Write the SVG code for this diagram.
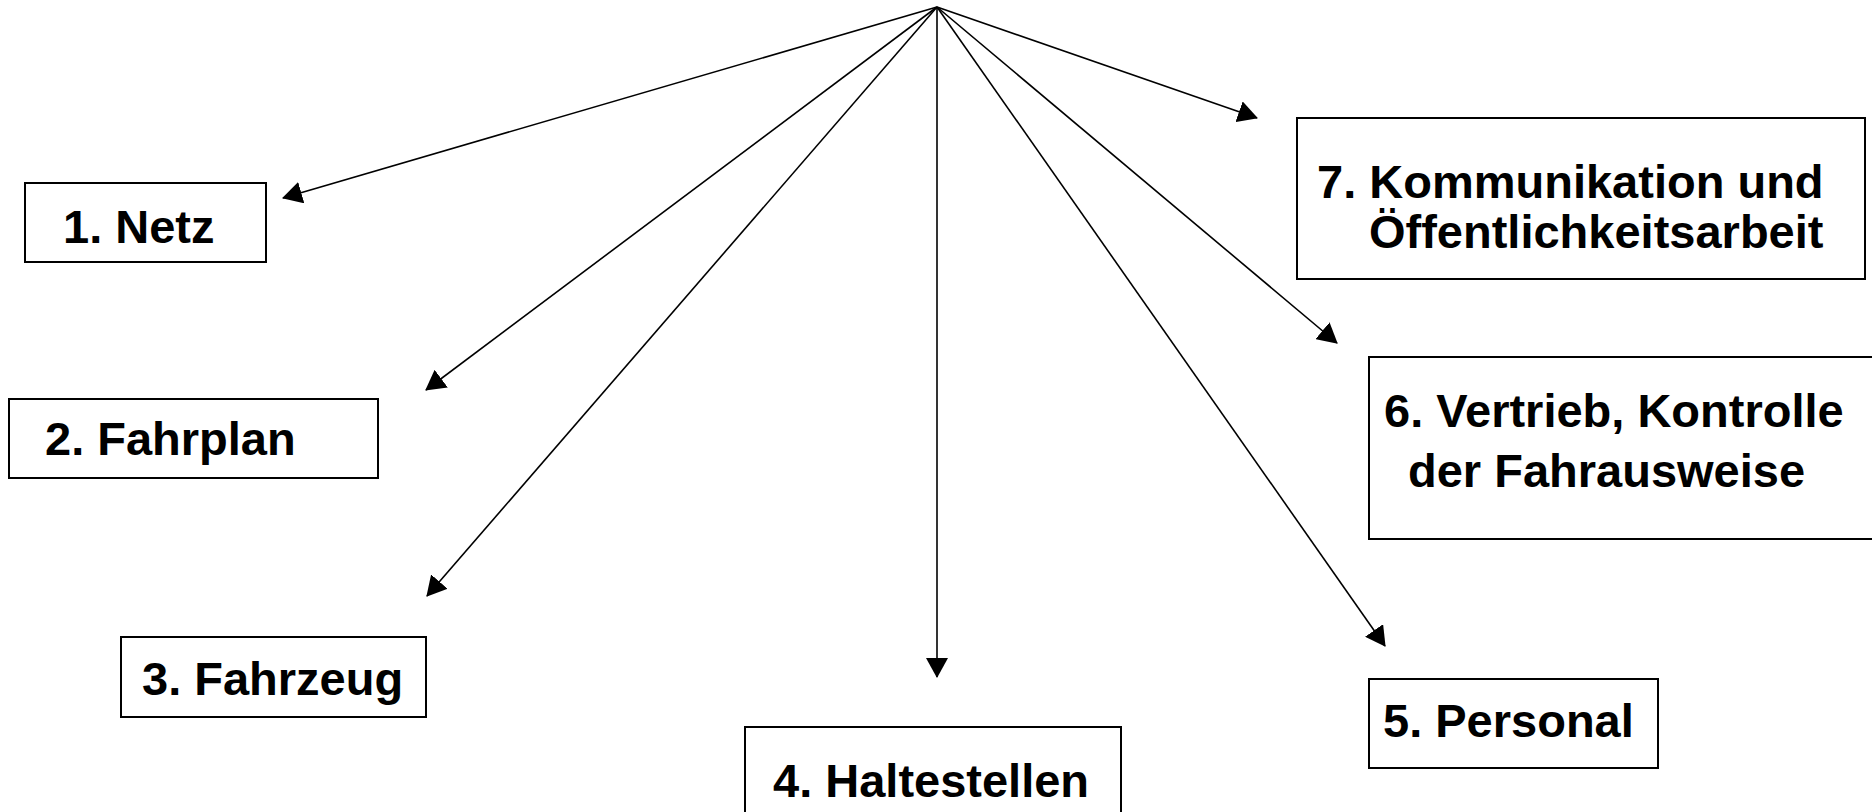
<svg xmlns="http://www.w3.org/2000/svg" width="1872" height="812" viewBox="0 0 1872 812">
<defs>
<marker id="ah" markerUnits="userSpaceOnUse" markerWidth="20" markerHeight="22" viewBox="0 0 20 22" refX="19" refY="11" orient="auto">
<path d="M0,0 L20,11 L0,22 z" fill="#000"/>
</marker>
<style>
.box{fill:#fff;stroke:#000;stroke-width:2}
.t{font-family:"Liberation Sans",Arial,sans-serif;font-weight:bold;font-size:47px;fill:#000}
.c{stroke:#000;stroke-width:1.6;fill:none;marker-end:url(#ah)}
</style>
</defs>
<rect width="1872" height="812" fill="#fff"/>
<g id="connectors">
<line class="c" x1="937" y1="7" x2="283" y2="198"/>
<line class="c" x1="937" y1="7" x2="426" y2="390"/>
<line class="c" x1="937" y1="7" x2="427" y2="596"/>
<line class="c" x1="937" y1="7" x2="937" y2="677"/>
<line class="c" x1="937" y1="7" x2="1385" y2="646"/>
<line class="c" x1="937" y1="7" x2="1337" y2="343"/>
<line class="c" x1="937" y1="7" x2="1257" y2="118"/>
</g>
<g id="n1">
<rect class="box" x="25" y="183" width="241" height="79"/>
<text class="t" x="63" y="243">1. Netz</text>
</g>
<g id="n2">
<rect class="box" x="9" y="399" width="369" height="79"/>
<text class="t" x="45" y="455">2. Fahrplan</text>
</g>
<g id="n3">
<rect class="box" x="121" y="637" width="305" height="80"/>
<text class="t" x="142" y="695">3. Fahrzeug</text>
</g>
<g id="n4">
<rect class="box" x="745" y="727" width="376" height="100"/>
<text class="t" x="773" y="797">4. Haltestellen</text>
</g>
<g id="n5">
<rect class="box" x="1369" y="679" width="289" height="89"/>
<text class="t" x="1383" y="737">5. Personal</text>
</g>
<g id="n6">
<rect class="box" x="1369" y="357" width="520" height="182"/>
<text class="t" x="1384" y="427">6. Vertrieb, Kontrolle</text>
<text class="t" x="1408" y="487">der Fahrausweise</text>
</g>
<g id="n7">
<rect class="box" x="1297" y="118" width="568" height="161"/>
<text class="t" x="1317" y="198">7. Kommunikation und</text>
<text class="t" x="1369" y="248">Öffentlichkeitsarbeit</text>
</g>
</svg>
